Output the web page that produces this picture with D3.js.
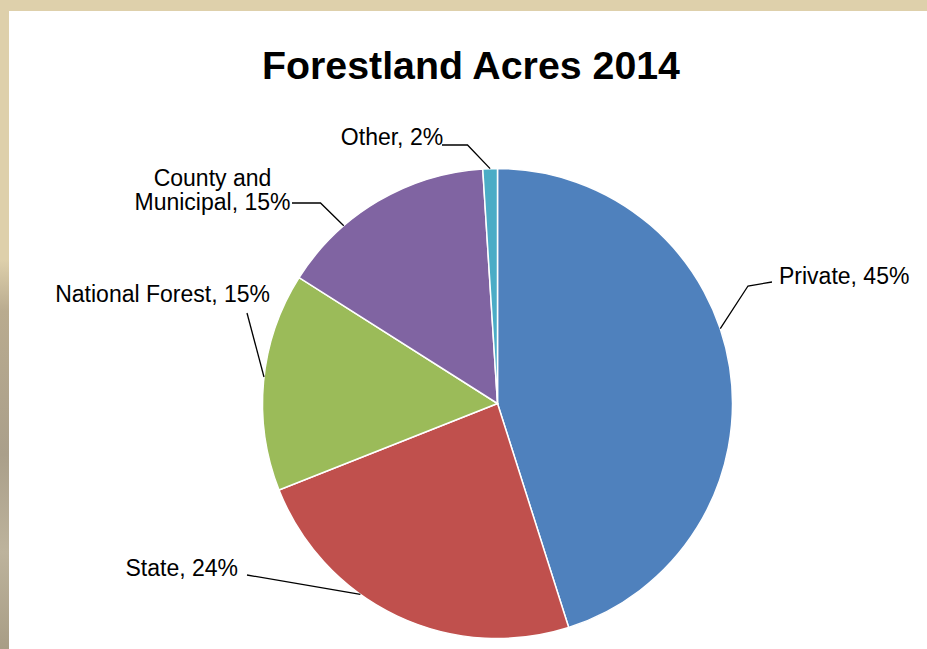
<!DOCTYPE html>
<html>
<head>
<meta charset="utf-8">
<script src="https://cdn.jsdelivr.net/npm/d3@7"></script>
<style>
    body { margin: 0; background: #ded0ab; }
    svg { display: block; }
    text { font-family: "Liberation Sans", Arial, Helvetica, sans-serif; fill: #000; }
</style>
</head>
<body>
<div id="chart"></div>
<script>
// slices, clockwise from 12 o'clock
const categories = ["Private", "State", "National Forest", "County and Municipal", "Other"];
const shares = [45.1, 23.9, 15.0, 15.0, 1.0];
const pctLabels = ["45%", "24%", "15%", "15%", "2%"];  // as printed on the chart
const colors = ["#4f81bd", "#c0504d", "#9bbb59", "#8064a2", "#4bacc6"];

const width = 927, height = 649;
const cx = 497.5, cy = 403.5, radius = 235;

// where each label sits: text anchor point, elbow of leader, fraction along the arc
const labelLayout = [
    { x: 779, y: 284, anchor: "start", elbow: [748, 286], textEnd: [772, 282], t: 0.44 },
    { x: 238, y: 576, anchor: "end", elbow: null, textEnd: [247, 575], t: 0.62 },
    { x: 270, y: 302, anchor: "end", elbow: null, textEnd: [247, 313], t: 0.52 },
    { x: 212.5, y: 186, anchor: "middle", elbow: [320.5, 203], textEnd: [292, 203], t: 0.31, wrap: "County and" },
    { x: 392, y: 145, anchor: "middle", elbow: [467.5, 145], textEnd: [442, 145], t: 0.5 }
];

const svg = d3.select('#chart')
    .append('svg')
    .attr('width', width)
    .attr('height', height);

// frame: beige border and the textured strip on the left
const defs = svg.append('defs');
const grad = defs.append('linearGradient')
    .attr('id', 'strip')
    .attr('x1', 0).attr('y1', 0).attr('x2', 0).attr('y2', 1);
grad.append('stop').attr('offset', '0%').attr('stop-color', '#ded0ab');
grad.append('stop').attr('offset', '40%').attr('stop-color', '#ded0ab');
grad.append('stop').attr('offset', '48%').attr('stop-color', '#b9ab8f');
grad.append('stop').attr('offset', '70%').attr('stop-color', '#aa9f8a');
grad.append('stop').attr('offset', '85%').attr('stop-color', '#bdb39c');
grad.append('stop').attr('offset', '100%').attr('stop-color', '#a89d85');

svg.append('rect').attr('width', width).attr('height', height).attr('fill', '#ded0ab');
svg.append('rect').attr('x', 0).attr('y', 0).attr('width', 9).attr('height', height).attr('fill', 'url(#strip)');
svg.append('rect').attr('x', 9).attr('y', 11).attr('width', width - 9).attr('height', height - 11).attr('fill', '#fff');

svg.append('text')
    .attr('x', 471)
    .attr('y', 79)
    .attr('text-anchor', 'middle')
    .style('font-size', '39.3px')
    .style('font-weight', 'bold')
    .text('Forestland Acres 2014');

const pie = d3.pie().sort(null).value(d => d);
const arcs = pie(shares);
const arc = d3.arc().innerRadius(0).outerRadius(radius);

const g = svg.append('g').attr('transform', `translate(${cx},${cy})`);

g.selectAll('path')
    .data(arcs)
    .join('path')
    .attr('d', arc)
    .attr('fill', (d, i) => colors[i])
    .attr('stroke', '#fff')
    .attr('stroke-width', 1.5);

// leader lines
const leaders = svg.append('g')
    .attr('fill', 'none')
    .attr('stroke', '#000')
    .attr('stroke-width', 1.3);

arcs.forEach((a, i) => {
    const L = labelLayout[i];
    const ang = a.startAngle + L.t * (a.endAngle - a.startAngle);
    const [px, py] = d3.pointRadial(ang, radius);
    const pts = [L.textEnd];
    if (L.elbow) pts.push(L.elbow);
    pts.push([cx + px, cy + py]);
    leaders.append('path').attr('d', d3.line()(pts));
});

// labels: "Category, pct", County one wrapped on two lines
const lbl = svg.append('g').style('font-size', '23px');
labelLayout.forEach((L, i) => {
    const full = `${categories[i]}, ${pctLabels[i]}`;
    const lines = L.wrap ? [L.wrap, full.slice(L.wrap.length + 1)] : [full];
    const t = lbl.append('text')
        .attr('x', L.x)
        .attr('y', L.y)
        .attr('text-anchor', L.anchor);
    lines.forEach((s, j) => {
        t.append('tspan').attr('x', L.x).attr('dy', j === 0 ? 0 : 23.5).text(s);
    });
});
</script>
</body>
</html>
